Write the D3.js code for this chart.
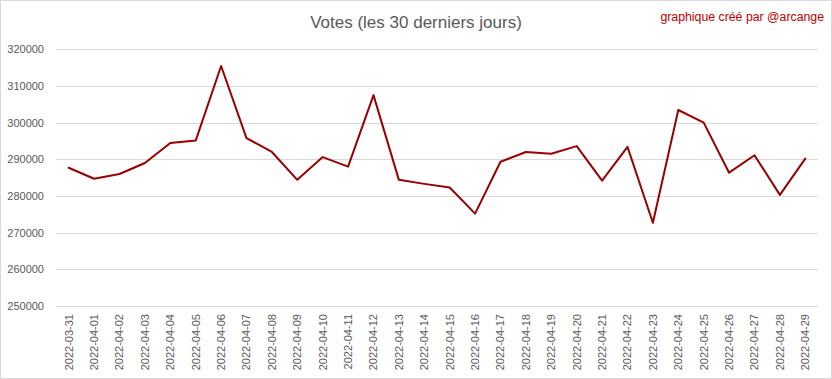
<!DOCTYPE html>
<html><head><meta charset="utf-8">
<script src="https://cdn.jsdelivr.net/npm/d3@7"></script>
<style>body{margin:0;background:#fff}svg{display:block}</style>
</head><body>
<svg id="c" width="832" height="379"></svg>
<script>
const dates = ["2022-03-31","2022-04-01","2022-04-02","2022-04-03","2022-04-04","2022-04-05","2022-04-06","2022-04-07","2022-04-08","2022-04-09","2022-04-10","2022-04-11","2022-04-12","2022-04-13","2022-04-14","2022-04-15","2022-04-16","2022-04-17","2022-04-18","2022-04-19","2022-04-20","2022-04-21","2022-04-22","2022-04-23","2022-04-24","2022-04-25","2022-04-26","2022-04-27","2022-04-28","2022-04-29"];
const votes = [287700,284700,286000,289000,294450,295100,315450,295800,292000,284400,290600,288000,307500,284400,283300,282300,275200,289350,292000,291500,293600,284200,293400,272700,303450,300000,286350,291100,280300,290200];
const yTicks = [250000,260000,270000,280000,290000,300000,310000,320000];
const title = "Votes (les 30 derniers jours)";
const credit = "graphique créé par @arcange";

const svg = d3.select("#c");
const W = 832, H = 379;
const m = {l:56, r:14, t:49.3, b:73};
svg.append("rect").attr("x",0.5).attr("y",0.5).attr("width",W-1).attr("height",H-1)
  .attr("fill","#fff").attr("stroke","#d9d9d9");

const x = d3.scaleBand().domain(dates).range([m.l, W-m.r]);
const y = d3.scaleLinear().domain([250000,320000]).range([H-m.b, m.t]);

const font = "'Liberation Sans', Arial, sans-serif";

// gridlines
svg.append("g").selectAll("line").data(yTicks).join("line")
  .attr("x1",m.l).attr("x2",W-m.r)
  .attr("y1",d=>Math.round(y(d))+0.5).attr("y2",d=>Math.round(y(d))+0.5)
  .attr("stroke","#d9d9d9").attr("stroke-width",1);

// y axis labels
const ya = svg.append("g").attr("transform",`translate(${m.l},0)`)
  .call(d3.axisLeft(y).tickValues(yTicks).tickSize(0).tickPadding(12).tickFormat(d3.format("d")));
ya.select(".domain").remove();
ya.selectAll("text").attr("fill","#595959").style("font-family",font).style("font-size","11px");

// x axis labels
const xa = svg.append("g").attr("transform",`translate(0,${H-m.b})`)
  .call(d3.axisBottom(x).tickSize(0));
xa.select(".domain").remove();
xa.selectAll("text").attr("fill","#595959").style("font-family",font).style("font-size","11px")
  .attr("transform","rotate(-90)").attr("text-anchor","end")
  .attr("x",-8).attr("y",0).attr("dy","0.35em");

// line
const line = d3.line().x((d,i)=>x(dates[i])+x.bandwidth()/2).y(d=>y(d));
svg.append("path").datum(votes).attr("d",line).attr("fill","none")
  .attr("stroke","#990000").attr("stroke-width",2).attr("stroke-linejoin","round").attr("stroke-linecap","round");

svg.append("text").attr("x",416).attr("y",28).attr("text-anchor","middle")
  .attr("fill","#595959").style("font-family",font).style("font-size","17px").text(title);
svg.append("text").attr("x",824).attr("y",21).attr("text-anchor","end")
  .attr("fill","#c00000").style("font-family",font).style("font-size","12.3px").text(credit);
</script>
</body></html>
